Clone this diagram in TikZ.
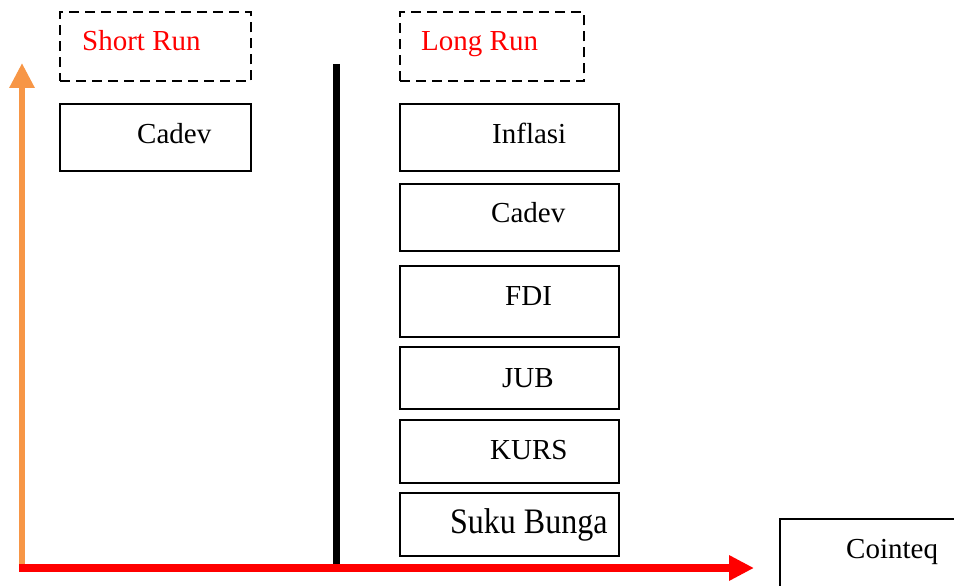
\documentclass[tikz,border=0pt]{standalone}
\usepackage{fontspec}
\setmainfont{Liberation Serif}
\usetikzlibrary{arrows.meta}
\definecolor{accorange}{HTML}{F79646}
\tikzset{
  box/.style={draw=black, line width=2pt, inner sep=0pt, minimum width=#1},
  dbox/.style={draw=black, line width=2pt, dash pattern=on 10pt off 6pt, inner sep=0pt},
  txt/.style={font=\fontsize{29}{34}\selectfont, inner sep=0pt, anchor=base west},
  red txt/.style={txt, text=red},
}
\begin{document}
\begin{tikzpicture}[x=1pt,y=-1pt]
\useasboundingbox (0,0) rectangle (954,586);
\clip (0,0) rectangle (954,586);
% dashed headers
\node[dbox, minimum width=191pt, minimum height=69pt] (shortrun) at (155.5,47) {};
\node[red txt] (shortt) at (82,51) {Short Run};
\node[dbox, minimum width=184pt, minimum height=69pt] (longrun) at (492,47) {};
\node[red txt] (longt) at (421,51) {Long Run};
% short run box
\node[box=191pt, minimum height=67pt] (cadevS) at (155.5,137.5) {};
\node[txt] (cadevSt) at (137,143) {Cadev};
% long run boxes
\node[box=219pt, minimum height=67pt] (inflasi) at (509.5,137.5) {};
\node[txt] (inflasit) at (492,143) {Inflasi};
\node[box=219pt, minimum height=67pt] (cadevL) at (509.5,217.5) {};
\node[txt] (cadevLt) at (491,222) {Cadev};
\node[box=219pt, minimum height=71pt] (fdi) at (509.5,301.5) {};
\node[txt] (fdit) at (505,305) {FDI};
\node[box=219pt, minimum height=62pt] (jub) at (509.5,378) {};
\node[txt] (jubt) at (502,387) {JUB};
\node[box=219pt, minimum height=63pt] (kurs) at (509.5,451.5) {};
\node[txt] (kurst) at (490,459) {KURS};
\node[box=219pt, minimum height=63pt] (suku) at (509.5,524) {};
\node[txt, font=\fontsize{32}{36}\selectfont] (sukut) at (450,533) {\scalebox{1}[1.12]{Suku Bunga}};
% cointeq
\node[box=200pt, minimum height=100pt] (cointeq) at (880,569) {};
\node[txt] (cointeqt) at (846,558) {Cointeq};
% axes
\coordinate (origin) at (22,568);
\coordinate (ytop) at (22,63);
\coordinate (xend) at (754,568);
\coordinate (vtop) at (336,64);
\coordinate (vbot) at (336,566);
\draw[line width=7pt, black] (vtop) -- (vbot);
\draw[line width=6pt, accorange, -{Triangle[length=25pt,width=24pt]}] (22,571) -- (ytop);
\draw[line width=8pt, red, -{Triangle[length=25pt,width=24pt]}] (19,568) -- (xend);
\end{tikzpicture}
\end{document}
